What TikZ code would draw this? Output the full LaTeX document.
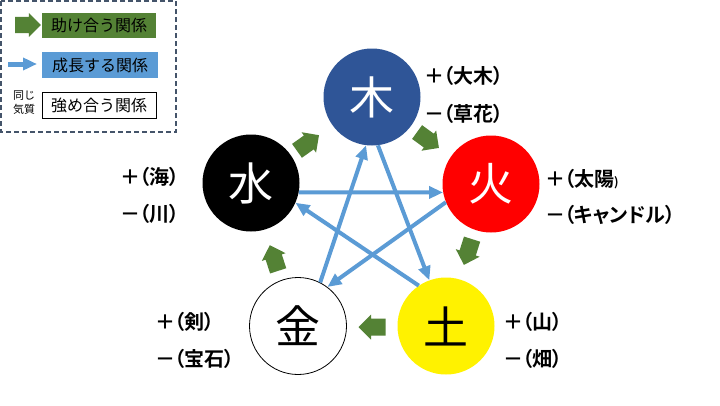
\documentclass[tikz,border=0pt]{standalone}
\usepackage{fontspec}
\setmainfont{Noto Sans CJK JP}[BoldFont={Noto Sans CJK JP Bold}]
\newfontfamily\labfont{Noto Sans CJK JP Bold}[RawFeature=+palt]
\newfontfamily\signfont{Noto Sans CJK JP Bold}
\usetikzlibrary{arrows.meta}
\definecolor{gfill}{HTML}{548235}
\definecolor{bline}{HTML}{5B9BD5}
\definecolor{mucol}{HTML}{2F5597}
\definecolor{framecol}{HTML}{44546A}
\newcommand\pls{\kern-2pt{\signfont ＋}\kern-1pt}
\newcommand\mns{\kern-2pt{\signfont －}\kern-1pt}
\begin{document}
\begin{tikzpicture}[x=1pt,y=-1pt,
  elem/.style={circle, minimum size=97pt, inner sep=0pt, font=\fontsize{45}{45}\selectfont},
  helpa/.pic={\fill[gfill] (13.5,0) -- (1,12.5) -- (1,8.5) -- (-13.5,8.5) -- (-13.5,-8.5) -- (1,-8.5) -- (1,-12.5) -- cycle;},
  growline/.style={draw=bline, line width=4pt, -{Triangle[length=14pt,width=12pt]}},
  lab/.style={font=\labfont\fontsize{20}{20}\selectfont, anchor=west, inner sep=0pt},
  legbox/.style={minimum width=114pt, minimum height=25pt, inner sep=0pt, font=\fontsize{16}{16}\selectfont}
]
\useasboundingbox (0,0) rectangle (720,405);
\fill[white] (0,0) rectangle (720,405);

% legend
\draw[framecol, line width=1.5pt, dash pattern=on 5pt off 3pt] (1,1) rectangle (176,132);
\pic[scale=0.95] (lga) at (28,25) {helpa};
\node[legbox, fill=gfill] (lg1) at (99,25) {助け合う関係};
\coordinate (lbs) at (8,64);
\coordinate (lbe) at (37,64);
\draw[growline, line width=5pt] (lbs) -- (lbe);
\node[legbox, fill=bline, minimum width=116pt, minimum height=26pt] (lg2) at (100,65) {成長する関係};
\node[font=\fontsize{11}{14}\selectfont, align=center, inner sep=0pt] (lgs) at (24,103) {同じ\\気質};
\node[legbox, draw=black, line width=0.8pt, fill=white, minimum height=26pt] (lg3) at (99,105) {強め合う関係};

% elements
\node[elem, fill=mucol, text=white] (mu) at (372,97) {木};
\node[elem, fill=red, text=white] (huo) at (491,184) {火};
\node[elem, fill=yellow] (tu) at (446,326) {土};
\node[elem, draw=black, line width=0.8pt, fill=white] (jin) at (298,326) {金};
\node[elem, fill=black, text=white] (shui) at (251,183) {水};

% growth (star)
\draw[growline] (shui.-11) -- (huo.190);
\draw[growline] (huo.202) -- (jin.53);
\draw[growline] (jin.63) -- (mu.263);
\draw[growline] (mu.277) -- (tu.110);
\draw[growline] (tu.124) -- (shui.-24);

% help arrows (pentagon)
\pic[rotate=35.4] (h1) at (308,143) {helpa};
\pic[rotate=-36] (h2) at (428,140) {helpa};
\pic[rotate=-107.6] (h3) at (468,252) {helpa};
\pic[rotate=180] (h4) at (372,327) {helpa};
\pic[rotate=108] (h5) at (274,258) {helpa};

% labels
\node[lab] (mup) at (426,76) {\pls（大木）};
\node[lab] (mum) at (426,114) {\mns（草花）};
\node[lab] (huop) at (547,179) {\pls（太陽{\fontsize{12}{12}\selectfont )}};
\node[lab] (huom) at (547,215) {\mns（キャンドル）};
\node[lab] (shuip) at (122,177) {\pls（海）};
\node[lab] (shuim) at (122,214) {\mns（川）};
\node[lab] (jinp) at (157,322) {\pls（剣）};
\node[lab] (jinm) at (157,359) {\mns（宝石）};
\node[lab] (tup) at (505,322) {\pls（山）};
\node[lab] (tum) at (505,359) {\mns（畑）};
\end{tikzpicture}
\end{document}
